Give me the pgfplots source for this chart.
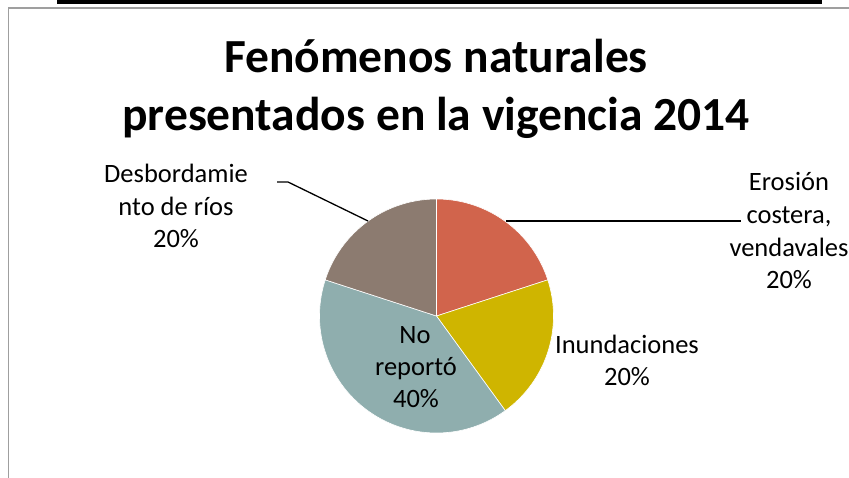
\documentclass[border=0pt]{standalone}
\usepackage{pgfplots}
\pgfplotsset{compat=1.18}
\usepackage{fontspec}
\setmainfont{Carlito}
\definecolor{cEro}{RGB}{209,100,76}
\definecolor{cInu}{RGB}{207,181,0}
\definecolor{cNo}{RGB}{143,174,174}
\definecolor{cDes}{RGB}{140,123,112}
\tikzset{
  lbl/.style={font=\fontsize{26.5bp}{32.5bp}\selectfont, anchor=base, inner sep=0pt},
  ttl/.style={font=\fontsize{47.5bp}{57bp}\selectfont\bfseries, anchor=base, inner sep=0pt},
}
\begin{document}
\begin{tikzpicture}
\begin{axis}[
  at={(0,0)}, anchor=south west,
  scale only axis, width=849bp, height=478bp,
  xmin=0, xmax=849, ymin=0, ymax=478, y dir=reverse,
  hide axis, clip=false,
]
% frame
\addplot[fill=black, draw=none] coordinates {(57,0) (822,0) (822,4) (57,4)} -- cycle;
\addplot[draw=gray!75, line width=1.4bp] coordinates {(8.5,478) (8.5,8) (849,8)};
% pie: values 20, 20, 40, 20 (percent), clockwise from 12 o'clock
\addplot[fill=cEro, draw=white, line width=0.6bp, domain=0:20, samples=50, variable=\t]
  ({436.5+117*cos(90-3.6*t)},{316-117*sin(90-3.6*t)}) -- (axis cs:436.5,316) -- cycle;
\addplot[fill=cInu, draw=white, line width=0.6bp, domain=20:40, samples=50, variable=\t]
  ({436.5+117*cos(90-3.6*t)},{316-117*sin(90-3.6*t)}) -- (axis cs:436.5,316) -- cycle;
\addplot[fill=cNo, draw=white, line width=0.6bp, domain=40:80, samples=90, variable=\t]
  ({436.5+117*cos(90-3.6*t)},{316-117*sin(90-3.6*t)}) -- (axis cs:436.5,316) -- cycle;
\addplot[fill=cDes, draw=white, line width=0.6bp, domain=80:100, samples=50, variable=\t]
  ({436.5+117*cos(90-3.6*t)},{316-117*sin(90-3.6*t)}) -- (axis cs:436.5,316) -- cycle;
% leader lines
\addplot[black, line width=1.3bp] coordinates {(506,221) (741,221)};
\addplot[black, line width=1.3bp] coordinates {(277,182) (288,182) (368,221)};
% title
\node[ttl] at (axis cs:436,73) {Fenómenos naturales};
\node[ttl] at (axis cs:436,130) {presentados en la vigencia 2014};
% labels
\node[lbl] at (axis cs:789,190) {Erosión};
\node[lbl] at (axis cs:789,223) {costera,};
\node[lbl] at (axis cs:789,256) {vendavales};
\node[lbl] at (axis cs:789,288) {20\%};
\node[lbl] at (axis cs:627,353) {Inundaciones};
\node[lbl] at (axis cs:627,385) {20\%};
\node[lbl] at (axis cs:415,343) {No};
\node[lbl] at (axis cs:416,375) {reportó};
\node[lbl] at (axis cs:416,407) {40\%};
\node[lbl] at (axis cs:176,182) {Desbordamie};
\node[lbl] at (axis cs:176,215) {nto de ríos};
\node[lbl] at (axis cs:176,247) {20\%};
\end{axis}
\pgfresetboundingbox
\path[use as bounding box] (0,0) rectangle (849bp,478bp);
\end{tikzpicture}
\end{document}
